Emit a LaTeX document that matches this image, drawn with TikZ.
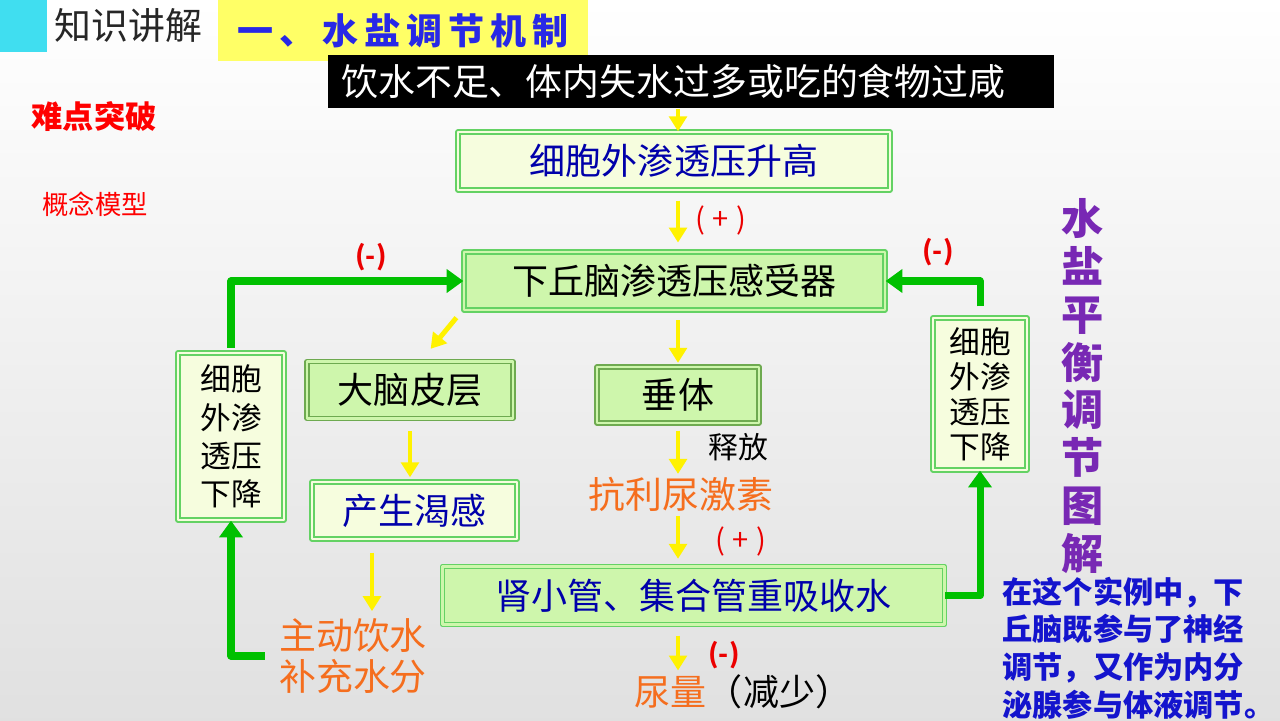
\documentclass[tikz,border=0pt]{standalone}
\usepackage{fontspec}
\setmainfont{Noto Sans CJK SC}
\usetikzlibrary{arrows.meta,positioning}
\definecolor{hdcyan}{RGB}{64,222,240}
\definecolor{hdyellow}{RGB}{255,255,102}
\definecolor{hdblue}{RGB}{40,40,230}
\definecolor{rimgreen}{RGB}{100,210,100}
\definecolor{olivegreen}{RGB}{110,170,80}
\definecolor{paleyellow}{RGB}{246,253,222}
\definecolor{paleleaf}{RGB}{206,246,172}
\definecolor{navy}{RGB}{0,0,170}
\definecolor{adhorange}{RGB}{245,110,30}
\definecolor{loopgreen}{RGB}{0,192,0}
\definecolor{signred}{RGB}{235,0,0}
\definecolor{plum}{RGB}{120,40,180}
\definecolor{noteblue}{RGB}{20,20,205}
\newcommand\sgn[1]{(\hspace{0.25em}#1\hspace{0.25em})}

\begin{document}
\begin{tikzpicture}[x=0.02cm, y=-0.02cm, line join=round,
  cell/.style={draw=rimgreen, double=#1, double distance=1.5pt, line width=0.75pt, fill=#1, inner sep=0pt, font=\fontsize{20.5}{24}\selectfont},
  tall/.style={cell=paleyellow, align=center, font=\fontsize{17.5}{21.5}\selectfont},
  word/.style={inner sep=0pt, font=\fontsize{21}{23.3}\selectfont},
  yarrow/.style={yellow, line width=2.8pt, -{Triangle[width=10pt,length=8.5pt]}},
  backline/.style={loopgreen, line width=4pt, -{Triangle[width=13pt,length=9.5pt]}},
  signlbl/.style={text=signred, inner sep=0pt, font=\fontsize{16.5}{16.5}\selectfont}]
  % page
  \shade[top color=white, bottom color=black!12] (0,0) rectangle (1280,720);
  \useasboundingbox (0,0) rectangle (1280,720);
  % heading
  \fill[hdcyan] (0,0) rectangle (47,52);
  \node[anchor=west, word, text=black!85] (kind) at (54,26) {知识讲解};
  \node[fill=hdyellow, anchor=north west, minimum width=7.4cm, minimum height=1.22cm, inner sep=0pt, text=hdblue, font=\fontsize{20.5}{20}\selectfont\bfseries\addfontfeature{LetterSpace=17}] (title) at (218,0) {一、水盐调节机制};
  \node[fill=black, text=white, anchor=north west, text width=14cm, align=left, inner xsep=0.26cm, minimum height=1.06cm, font=\fontsize{21}{21}\selectfont] (cause) at (328,55) {饮水不足、体内失水过多或吃的食物过咸};
  \node[word, text=red, font=\fontsize{17.8}{18}\selectfont\bfseries] (hard) at (94,117) {难点突破};
  \node[word, text=red, font=\fontsize{15}{15}\selectfont] (model) at (95,204) {概念模型};
  % boxes
  \node[cell=paleyellow, minimum width=8.64cm, minimum height=1.16cm, text=navy] (rise) at (674,161) {细胞外渗透压升高};
  \node[cell=paleleaf, minimum width=8.42cm, minimum height=1.16cm] (sensor) at (674.5,281) {下丘脑渗透压感受器};
  \node[cell=paleleaf, draw=olivegreen, minimum width=4.12cm, minimum height=1.14cm] (cortex) at (410,390) {大脑皮层};
  \node[cell=paleleaf, draw=olivegreen, minimum width=3.24cm, minimum height=1.12cm] (pit) at (678,395) {垂体};
  \node[cell=paleyellow, minimum width=4.1cm, minimum height=1.14cm, text=navy] (thirst) at (414.5,510.5) {产生渴感};
  \node[cell=paleleaf, minimum width=10.04cm, minimum height=1.16cm, text=navy] (kidney) at (693.5,595.5) {肾小管、集合管重吸收水};
  \node[tall, minimum width=2.12cm, minimum height=3.34cm, font=\fontsize{17.5}{21.8}\selectfont] (lowL) at (231,436.5) {细胞\\外渗\\透压\\下降};
  \node[tall, minimum width=1.88cm, minimum height=3.04cm, font=\fontsize{17.5}{20}\selectfont] (lowR) at (980,394) {细胞\\外渗\\透压\\下降};
  % loose texts
  \node[word, text=adhorange] (adh) at (681,494) {抗利尿激素};
  \node[word, font=\fontsize{17}{17}\selectfont] (release) at (738,447) {释放};
  \node[word, font=\fontsize{20.5}{20.5}\selectfont] (urine) at (743,692) {\textcolor{adhorange}{尿量}（减少）};
  \node[word, text=adhorange, align=center] (drink) at (353,656) {主动饮水\\补充水分};
  % yellow arrows
  \draw[yarrow] (cause.south -| pit) -- (rise.north -| pit);
  \draw[yarrow, shorten <=5.7pt, shorten >=5pt] (rise.south -| pit) -- (sensor.north -| pit);
  \draw[yarrow, shorten <=5.5pt, shorten >=2pt] (sensor.south -| pit) -- (pit.north);
  \draw[yarrow, shorten <=4pt, shorten >=1.4pt] (pit.south) -- (adh.north -| pit);
  \draw[yarrow, shorten <=2.5pt, shorten >=4pt] (adh.south -| pit) -- (kidney.north -| pit);
  \draw[yarrow, shorten <=6pt, shorten >=2.3pt] (kidney.south -| pit) -- (urine.north -| pit);
  \draw[yarrow, shorten <=7pt, shorten >=2.3pt] (cortex.south) -- (thirst.north -| cortex.south);
  \draw[yarrow, shorten <=7.4pt, shorten >=4pt] ([xshift=0.38cm]drink.north |- thirst.south) -- ([xshift=0.38cm]drink.north);
  \draw[yarrow] ([shift={(-7,7)}]sensor.south west) -- ([shift={(-83,-12)}]cortex.north east);
  % green feedback
  \draw[backline, shorten <=2.5pt] (lowL.north) |- (sensor.west);
  \draw[backline, shorten <=8pt] (drink.west) -| (lowL.south);
  \draw[backline] (kidney.east) -| (lowR.south);
  \draw[backline, shorten <=6.2pt] (lowR.north) |- (sensor.east);
  % signs
  \node[signlbl] (upA) at (721,220) {\sgn{+}};
  \node[signlbl] (upB) at (741,541) {\sgn{+}};
  \node[signlbl, font=\fontsize{15}{15}\selectfont\bfseries] (downL) at (371,257) {(-)};
  \node[signlbl, font=\fontsize{15}{15}\selectfont\bfseries] (downR) at (938,252) {(-)};
  \node[signlbl, font=\fontsize{15}{15}\selectfont\bfseries] (downU) at (724,655) {(-)};
  % side notes
  \node[word, text=plum, align=center, font=\fontsize{24}{27.2}\selectfont\bfseries] (theme) at (1083,386) {水\\盐\\平\\衡\\调\\节\\图\\解};
  \node[anchor=west, align=left, inner sep=0pt, text=noteblue, font=\fontsize{17.2}{21.5}\selectfont\bfseries] (note) at (1002,648) {在这个实例中，下\\丘脑既参与了神经\\调节，又作为内分\\泌腺参与体液调节。};
\end{tikzpicture}
\end{document}
